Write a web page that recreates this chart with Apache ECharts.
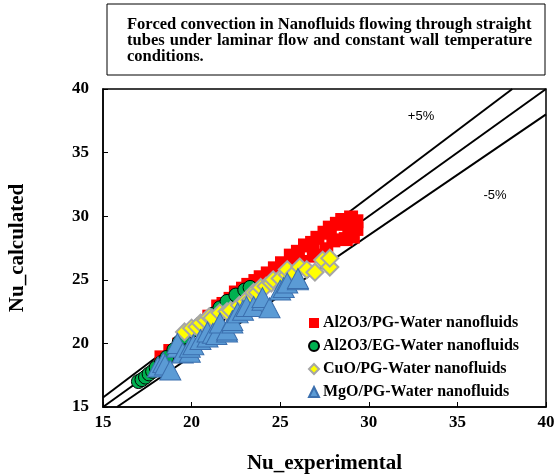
<!DOCTYPE html>
<html>
<head>
<meta charset="utf-8">
<script src="https://cdn.jsdelivr.net/npm/echarts@6/dist/echarts.min.js"></script>
<style>
  html, body { margin: 0; padding: 0; background: #fff; }
  #chart { width: 555px; height: 474px; }
</style>
</head>
<body>
<div id="chart"></div>
<script>
// Nu_experimental vs Nu_calculated for four nanofluids
const axisTicks = [15, 20, 25, 30, 35, 40];

const alPgWater = [
  [18.3, 18.9], [18.8, 19.4], [19.3, 19.9], [19.8, 20.5], [20.4, 21.2], [21.0, 22.1],
  [21.5, 22.9], [21.8, 23.1], [22.2, 23.5], [22.5, 24.0], [22.9, 24.3], [23.2, 24.6],
  [23.6, 24.9], [23.9, 25.2], [24.3, 25.5], [24.7, 25.9], [25.1, 26.3], [25.6, 26.9],
  [26.0, 27.2], [26.4, 27.7], [26.8, 27.9], [27.1, 28.3], [27.5, 28.7], [27.8, 29.1],
  [28.2, 29.4], [28.5, 29.7], [29.0, 29.9], [29.3, 29.6], [29.1, 28.4], [28.7, 28.2],
  [28.0, 28.1], [27.6, 27.4], [26.9, 26.9], [26.2, 26.4], [25.5, 25.9], [24.8, 25.3],
  [24.0, 24.6], [23.3, 24.0], [22.6, 23.4], [21.9, 22.8], [28.9, 29.0], [29.3, 29.0]
];

const alEgWater = [
  [17.0, 17.0], [17.2, 17.15], [17.4, 17.35], [17.6, 17.6], [17.8, 17.8], [18.0, 18.1],
  [18.3, 18.5], [18.6, 18.9], [19.0, 19.5], [19.3, 20.1], [19.6, 20.5], [20.0, 21.0],
  [20.4, 21.4], [20.8, 21.8], [21.2, 22.3], [21.6, 22.8], [22.0, 23.3], [22.5, 23.8],
  [23.0, 24.2], [23.3, 24.4]
];

const cuoPgWater = [
  [19.6, 20.9], [20.0, 21.2], [20.3, 21.3], [20.5, 21.6], [20.8, 21.8], [21.0, 22.1],
  [21.15, 22.0], [21.6, 22.4], [22.0, 22.5], [22.2, 22.6], [22.7, 23.0], [23.0, 23.3],
  [23.3, 23.4], [23.5, 24.0], [23.7, 24.0], [23.9, 24.4], [24.2, 24.5], [24.5, 24.75],
  [24.6, 25.0], [25.0, 25.1], [25.4, 25.4], [25.4, 25.8], [25.8, 25.5], [26.1, 26.0],
  [26.5, 25.8], [26.96, 25.6], [27.4, 26.55], [27.8, 26.0], [27.8, 26.7]
];

const mgoPgWater = [
  [18.1, 18.15], [18.4, 18.5], [18.5, 18.3], [18.8, 17.9], [19.2, 19.7], [19.2, 20.0],
  [19.5, 19.25], [19.9, 19.3], [19.9, 19.7], [20.1, 19.9], [20.5, 20.3], [20.9, 20.5],
  [20.9, 20.9], [21.2, 20.8], [21.4, 20.7], [21.6, 21.6], [22.0, 20.9], [22.0, 21.05],
  [22.3, 21.6], [22.3, 21.8], [22.6, 22.4], [22.9, 22.6], [23.1, 22.9], [23.5, 22.9],
  [24.0, 23.4], [24.0, 23.6], [24.4, 22.8], [25.0, 24.2], [25.2, 24.4], [25.4, 24.75],
  [26.0, 25.0], [26.0, 25.1]
];

// deviation bands: Nu_calc = factor * Nu_exp
const bandFactors = [1.05, 1.0, 0.95];
const seriesNames = [
  'Al2O3/PG-Water nanofluids',
  'Al2O3/EG-Water nanofluids',
  'CuO/PG-Water nanofluids',
  'MgO/PG-Water nanofluids'
];
const titleLines = [
  'Forced convection in Nanofluids flowing through straight',
  'tubes under laminar flow and constant wall temperature',
  'conditions.'
];

const serif = '"Liberation Serif", "Times New Roman", serif';
const chart = echarts.init(document.getElementById('chart'));

const axisMin = axisTicks[0], axisMax = axisTicks[axisTicks.length - 1];
function bandLine(f) {
  // clip the ratio line to the square plotting range
  const x0 = Math.max(axisMin, axisMin / f);
  const x1 = Math.min(axisMax, axisMax / f);
  return [[x0, f * x0], [x1, f * x1]];
}

// title box text: size chosen so the first line fills the box width,
// middle line justified word by word
const textLeft = 127, textRight = 532;
const measure = document.createElement('canvas').getContext('2d');
measure.font = 'bold 10px ' + serif;
const fontPx = 10 * (textRight - textLeft) / measure.measureText(titleLines[0]).width;
const titleFont = 'bold ' + fontPx.toFixed(2) + 'px ' + serif;
measure.font = titleFont;

const titleGraphics = [{
  type: 'rect',
  shape: { x: 107, y: 4, width: 438, height: 71 },
  style: { fill: '#fff', stroke: '#000', lineWidth: 1 }
}];
const lineY = [25, 41, 57];
titleLines.forEach((line, i) => {
  if (i === 1) {
    const words = line.split(' ');
    const widths = words.map(w => measure.measureText(w).width);
    const total = widths.reduce((a, b) => a + b, 0);
    const gap = (textRight - textLeft - total) / (words.length - 1);
    let x = textLeft;
    words.forEach((w, k) => {
      titleGraphics.push({
        type: 'text', x: x, y: lineY[i],
        style: { text: w, font: titleFont, fill: '#000', verticalAlign: 'middle', align: 'left' }
      });
      x += widths[k] + gap;
    });
  } else {
    titleGraphics.push({
      type: 'text', x: textLeft, y: lineY[i],
      style: { text: line, font: titleFont, fill: '#000', verticalAlign: 'middle', align: 'left' }
    });
  }
});

const bandSeries = bandFactors.map(f => ({
  type: 'line',
  data: bandLine(f),
  symbol: 'none',
  silent: true,
  lineStyle: { color: '#000', width: 2 },
  z: 1
}));

const labelFont = '13px "Liberation Sans", Arial, sans-serif';

chart.setOption({
  animation: false,
  grid: {
    left: 103, right: 9, top: 89, bottom: 67,
    containLabel: false, outerBoundsMode: 'none',
    show: true, borderColor: '#000', borderWidth: 1.5, backgroundColor: 'transparent'
  },
  xAxis: {
    type: 'value', min: axisMin, max: axisMax, interval: 5,
    name: 'Nu_experimental', nameLocation: 'middle', nameGap: 46,
    nameTextStyle: { fontFamily: serif, fontWeight: 'bold', fontSize: 21, color: '#000' },
    axisLine: { show: true, lineStyle: { color: '#000', width: 1.5 } },
    axisTick: { show: true, inside: true, length: 5, lineStyle: { color: '#000' } },
    axisLabel: { fontFamily: serif, fontWeight: 'bold', fontSize: 17, color: '#000', margin: 7 },
    splitLine: { show: false }
  },
  yAxis: {
    type: 'value', min: axisMin, max: axisMax, interval: 5,
    name: 'Nu_calculated', nameLocation: 'middle', nameGap: 75,
    nameTextStyle: { fontFamily: serif, fontWeight: 'bold', fontSize: 21, color: '#000' },
    axisLine: { show: true, lineStyle: { color: '#000', width: 1.5 } },
    axisTick: { show: true, inside: true, length: 5, lineStyle: { color: '#000' } },
    axisLabel: { fontFamily: serif, fontWeight: 'bold', fontSize: 17, color: '#000', margin: 14 },
    splitLine: { show: false }
  },
  legend: {
    orient: 'vertical', left: 308, top: 315,
    itemWidth: 10, itemHeight: 10, itemGap: 7, padding: 0,
    textStyle: { fontFamily: serif, fontWeight: 'bold', fontSize: 16, lineHeight: 16, color: '#000', padding: [0, 0, 0, -1] },
    data: seriesNames
  },
  graphic: titleGraphics.concat([
    { type: 'text', x: 421, y: 116, style: { text: '+5%', font: labelFont, fill: '#000', align: 'center', verticalAlign: 'middle' } },
    { type: 'text', x: 495, y: 195, style: { text: '-5%', font: labelFont, fill: '#000', align: 'center', verticalAlign: 'middle' } }
  ]),
  series: bandSeries.concat([
    {
      name: seriesNames[0], type: 'scatter', data: alPgWater,
      symbol: 'rect', symbolSize: 14,
      itemStyle: { color: '#ff0000', opacity: 1 }, z: 2
    },
    {
      name: seriesNames[1], type: 'scatter', data: alEgWater,
      symbol: 'circle', symbolSize: 14,
      itemStyle: { color: '#00b050', borderColor: '#000', borderWidth: 1, opacity: 1 }, z: 3
    },
    {
      name: seriesNames[2], type: 'scatter', data: cuoPgWater,
      symbol: 'diamond', symbolSize: 17,
      itemStyle: { color: '#ffff00', borderColor: '#a6a6a6', borderWidth: 2, opacity: 1 }, z: 4
    },
    {
      name: seriesNames[3], type: 'scatter', data: mgoPgWater,
      symbol: 'triangle', symbolSize: [21, 20],
      itemStyle: { color: '#5b9bd5', borderColor: '#3b6fae', borderWidth: 1, opacity: 1 }, z: 5
    }
  ])
});
</script>
</body>
</html>
